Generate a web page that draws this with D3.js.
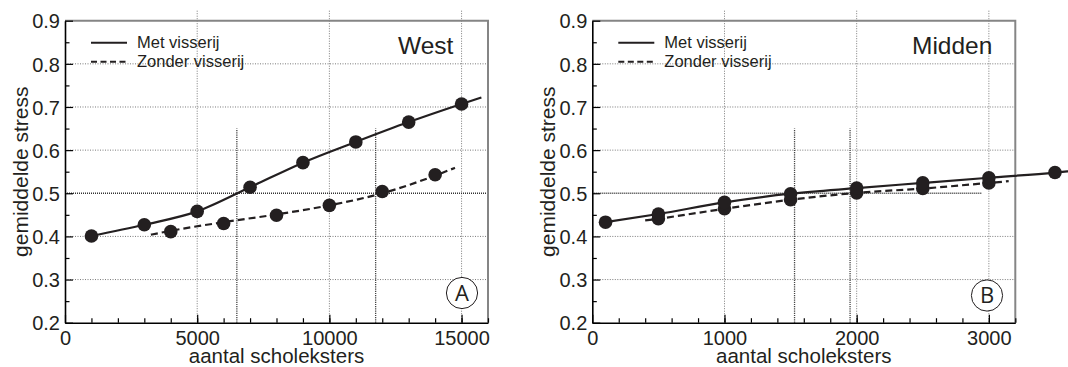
<!DOCTYPE html>
<html>
<head>
<meta charset="utf-8">
<script src="https://cdn.jsdelivr.net/npm/d3@7"></script>
<style>
  html, body { margin: 0; padding: 0; background: #fff; }
  svg { display: block; font-family: "Liberation Sans", Arial, Helvetica, sans-serif; }
</style>
</head>
<body>
<svg id="chart" width="1068" height="367"></svg>
<script>
// West panel
const westMetX = [1000, 3000, 5000, 7000, 9000, 11000, 13000, 15000];
const westMetY = [0.401, 0.427, 0.458, 0.514, 0.571, 0.619, 0.665, 0.707];
const westMetLineX = [1000, 3000, 5000, 7000, 9000, 11000, 13000, 15000, 15750];
const westMetLineY = [0.401, 0.427, 0.458, 0.514, 0.571, 0.619, 0.665, 0.707, 0.722];
const westZonderX = [4000, 6000, 8000, 10000, 12000, 14000];
const westZonderY = [0.411, 0.430, 0.449, 0.472, 0.504, 0.543];
const westZonderLineX = [3250, 4000, 6000, 8000, 10000, 12000, 14000, 14750];
const westZonderLineY = [0.404, 0.413, 0.433, 0.451, 0.472, 0.500, 0.541, 0.559];
const westThresholds = [6500, 11750];

// Midden panel
const middenMetX = [100, 500, 1000, 1500, 2000, 2500, 3000, 3500];
const middenMetY = [0.433, 0.452, 0.479, 0.499, 0.512, 0.524, 0.536, 0.548];
const middenMetLineX = [100, 500, 1000, 1500, 2000, 2500, 3000, 3500, 3600];
const middenMetLineY = [0.433, 0.452, 0.479, 0.499, 0.512, 0.524, 0.536, 0.548, 0.551];
const middenZonderX = [500, 1000, 1500, 2000, 2500, 3000];
const middenZonderY = [0.441, 0.464, 0.485, 0.501, 0.511, 0.524];
const middenZonderLineX = [400, 500, 1000, 1500, 2000, 2500, 3000, 3150];
const middenZonderLineY = [0.437, 0.441, 0.464, 0.485, 0.501, 0.511, 0.524, 0.528];
const middenThresholds = [1530, 1950];

const yTicks = [0.2, 0.3, 0.4, 0.5, 0.6, 0.7, 0.8, 0.9];
const legendLabels = ["Met visserij", "Zonder visserij"];

const svg = d3.select("#chart");
const ink = "#231f20";

function zip(xs, ys) {
  return xs.map((x, i) => [x, ys[i]]);
}

function drawPanel(cfg) {
  const x = d3.scaleLinear().domain(cfg.xDomain).range([cfg.left, cfg.left + 423]);
  const y = d3.scaleLinear().domain([0.2, 0.9]).range([322.7, 20.7]);
  const g = svg.append("g");
  const [top, bottom] = y.range().slice().reverse();

  // light grid
  g.selectAll(".gx").data(cfg.xMajor.filter((d) => d > 0)).join("line")
    .attr("x1", (d) => x(d)).attr("x2", (d) => x(d))
    .attr("y1", top - 10).attr("y2", bottom)
    .attr("stroke", "#7a7a7a").attr("stroke-width", 1).attr("stroke-dasharray", "1,1.5");
  g.selectAll(".gy").data(yTicks.filter((d) => d > 0.2 && d < 0.9 && d !== 0.5)).join("line")
    .attr("x1", x.range()[0]).attr("x2", x.range()[1])
    .attr("y1", (d) => y(d)).attr("y2", (d) => y(d))
    .attr("stroke", "#7a7a7a").attr("stroke-width", 1).attr("stroke-dasharray", "1,1.5");

  // threshold lines
  g.append("line")
    .attr("x1", x.range()[0]).attr("x2", x(cfg.halfLineEnd))
    .attr("y1", y(0.5)).attr("y2", y(0.5))
    .attr("stroke", "#333").attr("stroke-width", 1.5).attr("stroke-dasharray", "1,1");
  g.selectAll(".thr").data(cfg.thresholds).join("line")
    .attr("x1", (d) => x(d)).attr("x2", (d) => x(d))
    .attr("y1", y(0.2)).attr("y2", y(0.65))
    .attr("stroke", "#444").attr("stroke-width", 1.3).attr("stroke-dasharray", "1.2,1");

  // top/right frame
  g.append("path")
    .attr("d", `M${x.range()[0]},${top}H${x.range()[1]}V${bottom}`)
    .attr("fill", "none").attr("stroke", "#858585").attr("stroke-width", 2);

  // minor ticks
  g.append("g").attr("transform", `translate(0,${bottom})`)
    .call(d3.axisBottom(x).tickValues(cfg.xMinor).tickSizeInner(-4.5).tickSizeOuter(0).tickFormat(""))
    .call((a) => a.select(".domain").remove())
    .call((a) => a.selectAll("line").attr("stroke", "#000").attr("stroke-width", 1.2));
  g.append("g").attr("transform", `translate(${x.range()[0]},0)`)
    .call(d3.axisLeft(y).tickValues(d3.range(0.25, 0.9, 0.1)).tickSizeInner(-4.5).tickSizeOuter(0).tickFormat(""))
    .call((a) => a.select(".domain").remove())
    .call((a) => a.selectAll("line").attr("stroke", "#000").attr("stroke-width", 1.2));

  // major axes
  const xAxis = g.append("g").attr("transform", `translate(0,${bottom})`)
    .call(d3.axisBottom(x).tickValues(cfg.xMajor).tickSizeInner(-8).tickSizeOuter(0).tickPadding(8).tickFormat(d3.format("d")));
  const yAxis = g.append("g").attr("transform", `translate(${x.range()[0]},0)`)
    .call(d3.axisLeft(y).tickValues(yTicks).tickSizeInner(-8).tickSizeOuter(0).tickPadding(5).tickFormat(d3.format(".1f")));
  [xAxis, yAxis].forEach((a) => {
    a.select(".domain").attr("stroke", "#000").attr("stroke-width", 1.6);
    a.selectAll("line").attr("stroke", "#000").attr("stroke-width", 1.2);
    a.selectAll("text").attr("font-size", 20).attr("fill", "#231f20")
      .attr("font-family", "'Liberation Sans', Arial, Helvetica, sans-serif");
  });
  yAxis.selectAll("text").attr("dy", "0.36em");

  // axis titles
  g.append("text")
    .attr("x", (x.range()[0] + x.range()[1]) / 2).attr("y", 363)
    .attr("text-anchor", "middle").attr("font-size", 20.5).attr("fill", ink)
    .text("aantal scholeksters");
  g.append("text")
    .attr("transform", `translate(${x.range()[0] - 37},${(top + bottom) / 2}) rotate(-90)`)
    .attr("text-anchor", "middle").attr("font-size", 21).attr("fill", ink)
    .text("gemiddelde stress");

  // series
  const line = d3.line().x((d) => x(d[0])).y((d) => y(d[1])).curve(d3.curveMonotoneX);
  g.append("path").datum(zip(cfg.metLineX, cfg.metLineY))
    .attr("d", line).attr("fill", "none").attr("stroke", ink).attr("stroke-width", 2.2);
  g.append("path").datum(zip(cfg.zonderLineX, cfg.zonderLineY))
    .attr("d", line).attr("fill", "none").attr("stroke", ink).attr("stroke-width", 2.2)
    .attr("stroke-dasharray", "7,4");
  g.selectAll(".dz").data(zip(cfg.zonderX, cfg.zonderY)).join("circle")
    .attr("cx", (d) => x(d[0])).attr("cy", (d) => y(d[1])).attr("r", 6.8).attr("fill", ink);
  g.selectAll(".dm").data(zip(cfg.metX, cfg.metY)).join("circle")
    .attr("cx", (d) => x(d[0])).attr("cy", (d) => y(d[1])).attr("r", 6.8).attr("fill", ink);

  // legend
  const lx = x.range()[0];
  legendLabels.forEach((label, i) => {
    const ly = 42.7 + i * 19;
    g.append("line")
      .attr("x1", lx + 26).attr("x2", lx + 62).attr("y1", ly).attr("y2", ly)
      .attr("stroke", ink).attr("stroke-width", 2)
      .attr("stroke-dasharray", i === 1 ? "6,3.5" : null);
    g.append("text")
      .attr("x", lx + 72).attr("y", ly + 5.5)
      .attr("font-size", 16.5).attr("fill", ink)
      .text(label);
  });

  // panel name
  g.append("text")
    .attr("x", cfg.titleX).attr("y", 54.3)
    .attr("font-size", 24.5).attr("fill", ink)
    .text(cfg.title);

  // letter badge
  const b = g.append("g").attr("transform", `translate(${cfg.badgeX},${cfg.badgeY})`);
  b.append("circle").attr("r", 15.6).attr("fill", "#fff").attr("stroke", ink).attr("stroke-width", 1);
  b.append("text").attr("text-anchor", "middle").attr("dy", "0.36em")
    .attr("font-family", "'Open Sans', 'Noto Sans', sans-serif")
    .attr("font-size", 22).attr("fill", ink).text(cfg.badge);
}

drawPanel({
  left: 65,
  xDomain: [0, 16000],
  xMajor: [0, 5000, 10000, 15000],
  xMinor: d3.range(1000, 16001, 1000),
  metX: westMetX, metY: westMetY,
  metLineX: westMetLineX, metLineY: westMetLineY,
  zonderX: westZonderX, zonderY: westZonderY,
  zonderLineX: westZonderLineX, zonderLineY: westZonderLineY,
  thresholds: westThresholds,
  halfLineEnd: 16000,
  title: "West", titleX: 398,
  badge: "A", badgeX: 462, badgeY: 293
});

drawPanel({
  left: 592.3,
  xDomain: [0, 3200],
  xMajor: [0, 1000, 2000, 3000],
  xMinor: d3.range(200, 3201, 200),
  metX: middenMetX, metY: middenMetY,
  metLineX: middenMetLineX, metLineY: middenMetLineY,
  zonderX: middenZonderX, zonderY: middenZonderY,
  zonderLineX: middenZonderLineX, zonderLineY: middenZonderLineY,
  thresholds: middenThresholds,
  halfLineEnd: 2950,
  title: "Midden", titleX: 912,
  badge: "B", badgeX: 987, badgeY: 295.5
});
</script>
</body>
</html>
